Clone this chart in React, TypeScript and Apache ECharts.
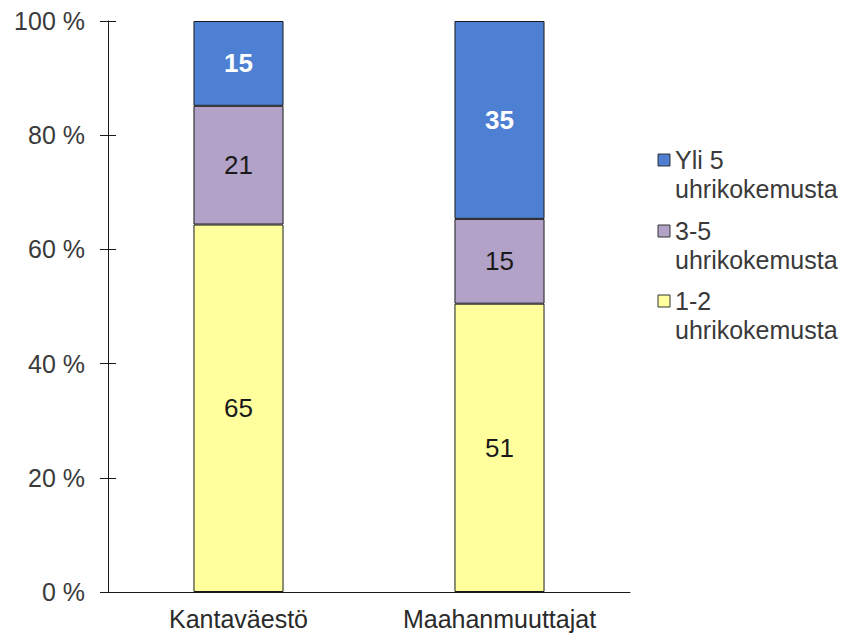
import React, { useEffect, useRef } from "react";
import * as echarts from "echarts";

const categories = ["Kantaväestö", "Maahanmuuttajat"];
const seriesNames = ["1-2\nuhrikokemusta", "3-5\nuhrikokemusta", "Yli 5\nuhrikokemusta"];
const values12 = [65, 51];
const values35 = [21, 15];
const valuesOver5 = [15, 35];
const yTicks = [0, 20, 40, 60, 80, 100];

const colors = ["#ffff9e", "#b2a2c8", "#4d80d2"];
const labelColors = ["#1a1a1a", "#1a1a1a", "#ffffff"];
const FONT = "Liberation Sans, Arial, sans-serif";

export default function App() {
  const ref = useRef<HTMLDivElement>(null);
  useEffect(() => {
    if (!ref.current) return;
    const chart = echarts.init(ref.current, null, { renderer: "svg" });
    const raw = [values12, values35, valuesOver5];
    const totals = categories.map((_, i) => raw.reduce((s, arr) => s + arr[i], 0));

    const series = raw.map((arr, si) => ({
      name: seriesNames[si],
      type: "bar",
      stack: "total",
      barWidth: "34.5%",
      itemStyle: { color: colors[si], borderColor: "#1a1a1a", borderWidth: 1 },
      label: {
        show: true,
        position: "inside",
        formatter: (p: any) => String(arr[p.dataIndex]),
        color: labelColors[si],
        fontWeight: si === 2 ? "bold" : "normal",
        fontSize: 26,
        fontFamily: FONT,
      },
      data: arr.map((v, i) => (v / totals[i]) * 100),
    }));

    // legend drawn as graphics (top-down: reverse of stack order)
    const legendOrder = [2, 1, 0];
    const legendCenters = [160, 231, 301];
    const graphic: any[] = [];
    legendOrder.forEach((si, k) => {
      const c = legendCenters[k];
      graphic.push({
        type: "rect",
        shape: { x: 658, y: c - 6, width: 12, height: 12 },
        style: { fill: colors[si], stroke: "#333", lineWidth: 1 },
      });
      graphic.push({
        type: "text",
        x: 675,
        y: c - 14.5,
        style: {
          text: seriesNames[si],
          fontSize: 25,
          fontFamily: FONT,
          fill: "#3a3a3a",
          lineHeight: 29,
          verticalAlign: "top",
        },
      });
    });

    chart.setOption({
      animation: false,
      grid: { left: 108, right: 220, top: 21, bottom: 42 },
      xAxis: {
        type: "category",
        data: categories,
        axisLine: { lineStyle: { color: "#1a1a1a", width: 1 } },
        axisTick: { show: false },
        axisLabel: { fontSize: 25, fontFamily: FONT, color: "#2a2a2a", margin: 14 },
      },
      yAxis: [
        {
          type: "value",
          min: yTicks[0],
          max: yTicks[yTicks.length - 1],
          interval: 20,
          axisLine: { show: true, lineStyle: { color: "#1a1a1a", width: 1 } },
          axisTick: { show: true, length: 8, lineStyle: { color: "#1a1a1a" } },
          splitLine: { show: false },
          axisLabel: {
            formatter: "{value} %",
            fontSize: 25,
            fontFamily: FONT,
            color: "#3a3a3a",
            margin: 23,
          },
        },
        {
          type: "value",
          position: "left",
          min: yTicks[0],
          max: yTicks[yTicks.length - 1],
          interval: 20,
          axisLine: { show: false },
          axisTick: { show: true, inside: true, length: 8, lineStyle: { color: "#1a1a1a" } },
          splitLine: { show: false },
          axisLabel: { show: false },
        },
      ],
      series,
      graphic,
    });
    return () => chart.dispose();
  }, []);
  return <div ref={ref} style={{ width: 850, height: 634, position: "absolute", left: 0, top: 0 }} />;
}
